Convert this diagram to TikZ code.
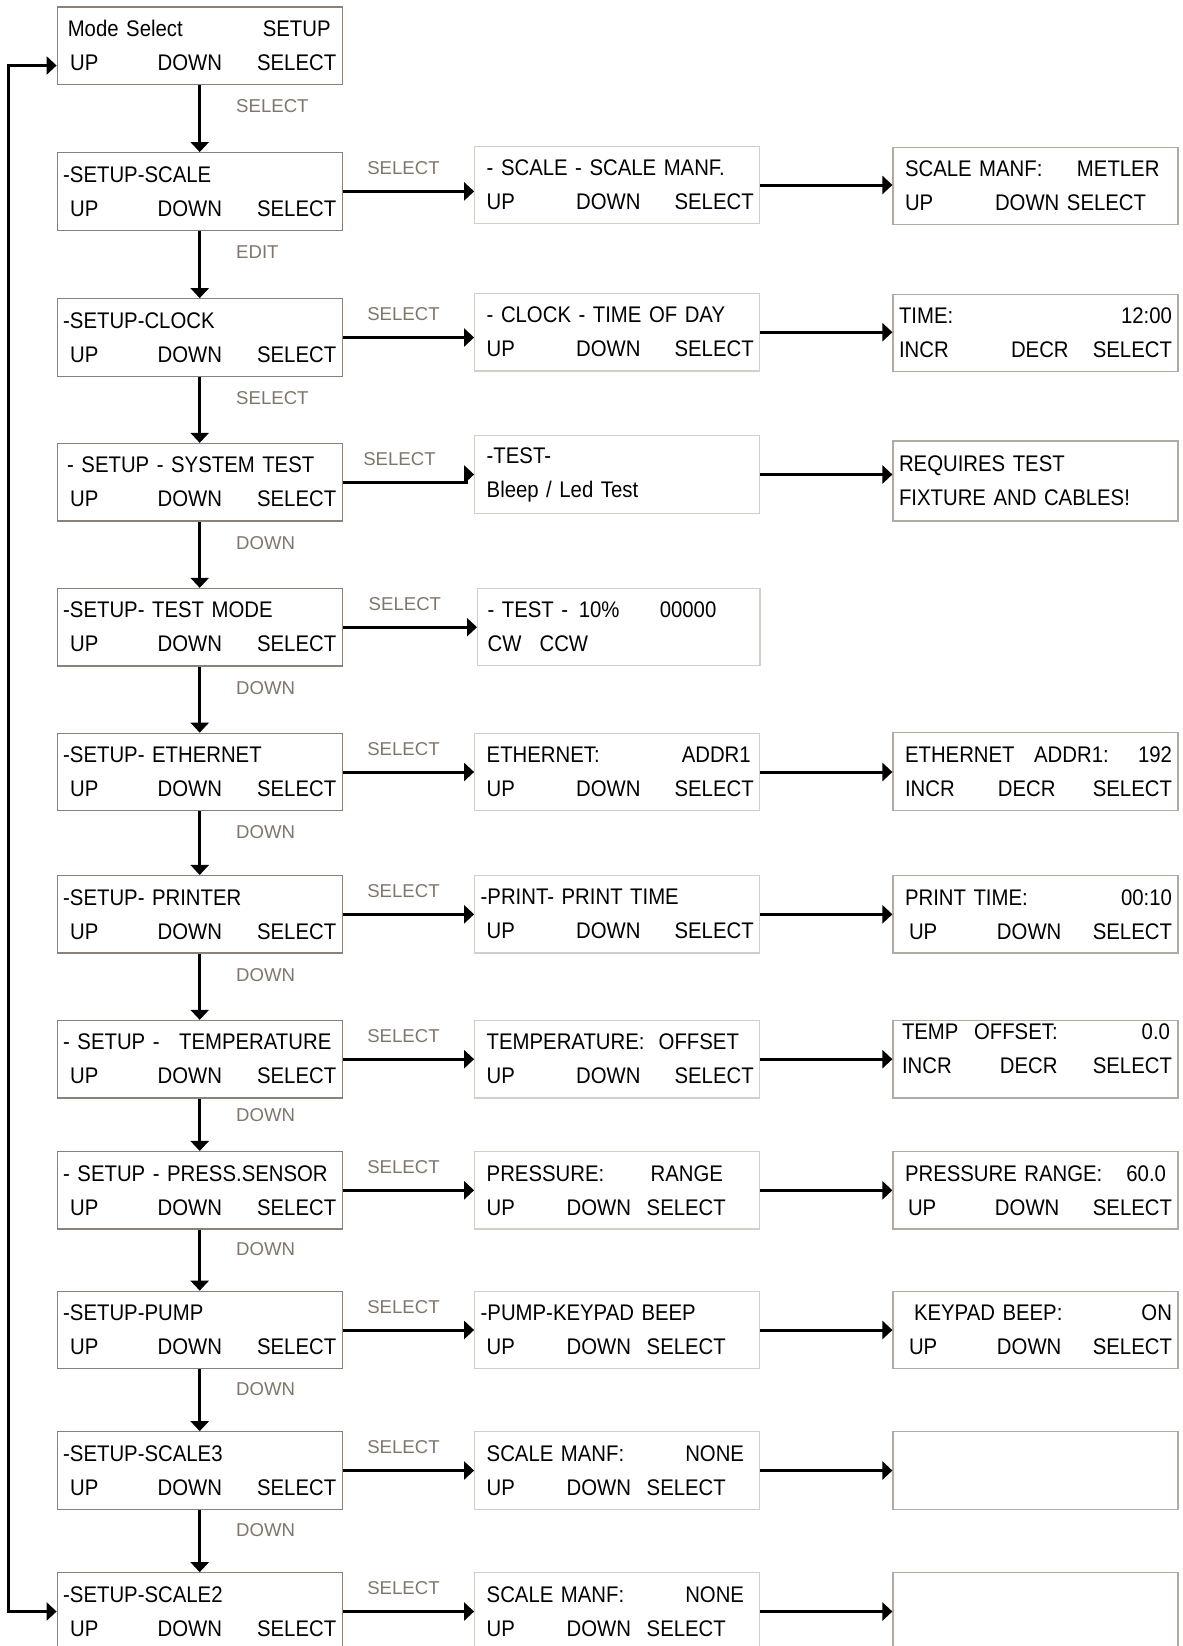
\documentclass[tikz,border=0pt]{standalone}
\usepackage{fontspec}
\usepackage{tikz}
\usetikzlibrary{arrows.meta,positioning}
\setmainfont{Liberation Sans}
\newfontfamily\lcdfont{Liberation Sans}[FakeStretch=0.9]
\definecolor{lcdedge}{HTML}{8A8178}
\definecolor{paledge}{HTML}{D2CEC8}
\definecolor{midedge}{HTML}{B1ABA4}
\definecolor{keygray}{HTML}{7F766B}
\newcommand{\lcdtype}{\lcdfont\fontsize{11.3}{17}\selectfont\spaceskip=1.9pt plus 1pt\relax}
\newcommand{\lcd}[2]{\makebox[\hsize][l]{#1}\\\makebox[\hsize][l]{#2}}
\newcommand{\setupkeys}{\hspace*{3.5pt}\makebox[43.7pt][l]{UP}DOWN\hfill SELECT}
\newcommand{\midkeys}{\hspace*{3pt}\makebox[44.7pt][l]{UP}DOWN\hfill SELECT}
\newcommand{\tightkeys}{\hspace*{3pt}\makebox[40pt][l]{UP}\makebox[40pt][l]{DOWN}SELECT}

\begin{document}
\begin{tikzpicture}[x=0.5pt,y=-0.5pt,
  lcd/.style={draw=lcdedge,line width=0.6pt,inner xsep=3pt,inner ysep=0pt,text width=136.5pt,
    minimum height=38.75pt,align=left,font=\lcdtype},
  lcdmid/.style={lcd,draw=paledge},
  lcdend/.style={lcd,draw=midedge},
  flow/.style={line width=1.5pt,-{Triangle[length=5pt,width=9pt]}},
  vlbl/.style={pos=0.32,right=17.5pt,inner sep=0pt,text=keygray,font=\fontsize{9.3}{11}\selectfont},
  hlbl/.style={midway,above=7.5pt,xshift=-2.5pt,inner sep=0pt,text=keygray,font=\fontsize{9.3}{11}\selectfont}]
\useasboundingbox (0,0) rectangle (1183,1646);
% setup menu column
\node[lcd] (mode) at (199.7,45.8) {\lcd{\hspace*{2.3pt}Mode Select\hfill SETUP\hspace*{2.8pt}}{\setupkeys}};
\node[lcd] (l1) at (199.7,191.4) {\lcd{-SETUP-SCALE}{\setupkeys}};
\node[lcd] (l2) at (199.7,337.5) {\lcd{-SETUP-CLOCK}{\setupkeys}};
\node[lcd] (l3) at (199.7,482.2) {\lcd{\hspace*{2pt}- SETUP - SYSTEM TEST}{\setupkeys}};
\node[lcd] (l4) at (199.7,627.2) {\lcd{-SETUP- TEST MODE}{\setupkeys}};
\node[lcd] (l5) at (199.7,772) {\lcd{-SETUP- ETHERNET}{\setupkeys}};
\node[lcd] (l6) at (199.7,914.3) {\lcd{-SETUP- PRINTER}{\setupkeys}};
\node[lcd] (l7) at (199.7,1059.2) {\lcd{- SETUP -\hspace{6pt} TEMPERATURE}{\setupkeys}};
\node[lcd] (l8) at (199.7,1190.3) {\lcd{- SETUP - PRESS.SENSOR}{\setupkeys}};
\node[lcd] (l9) at (199.7,1330) {\lcd{-SETUP-PUMP}{\setupkeys}};
\node[lcd] (l10) at (199.7,1470.5) {\lcd{-SETUP-SCALE3}{\setupkeys}};
\node[lcd] (l11) at (199.7,1611.5) {\lcd{-SETUP-SCALE2}{\setupkeys}};
% sub menus
\node[lcdmid] (m1) at (617.2,185) {\lcd{\hspace*{3pt}- SCALE - SCALE MANF.}{\midkeys}};
\node[lcdmid] (m2) at (617.2,332.2) {\lcd{\hspace*{3pt}- CLOCK - TIME OF DAY}{\midkeys}};
\node[lcdmid] (m3) at (617.2,474.5) {\lcd{\hspace*{3pt}-TEST-}{\hspace*{3pt}Bleep / Led Test}};
\node[lcdmid,text width=135.2pt] (m4) at (618.8,627) {\lcd{\hspace*{2pt}\makebox[45.6pt][l]{- TEST -}\makebox[40.5pt][l]{10\%}00000}{\hspace*{2pt}\makebox[26pt][l]{CW}CCW}};
\node[lcdmid] (m5) at (617.2,772) {\lcd{\hspace*{3pt}ETHERNET:\hfill ADDR1\hspace*{1.5pt}}{\midkeys}};
\node[lcdmid] (m6) at (617.2,914.3) {\lcd{-PRINT- PRINT TIME}{\midkeys}};
\node[lcdmid] (m7) at (617.2,1059.2) {\lcd{\hspace*{3pt}\makebox[86pt][l]{TEMPERATURE:}OFFSET}{\midkeys}};
\node[lcdmid] (m8) at (617.2,1190.3) {\lcd{\hspace*{3pt}\makebox[82pt][l]{PRESSURE:}RANGE}{\tightkeys}};
\node[lcdmid] (m9) at (617.2,1330) {\lcd{-PUMP-KEYPAD BEEP}{\tightkeys}};
\node[lcdmid] (m10) at (617.2,1470.5) {\lcd{\hspace*{3pt}\makebox[99.3pt][l]{SCALE MANF:}NONE}{\tightkeys}};
\node[lcdmid] (m11) at (617.2,1611.5) {\lcd{\hspace*{3pt}\makebox[99.3pt][l]{SCALE MANF:}NONE}{\tightkeys}};
% value screens
\node[lcdend] (r1) at (1035.5,186) {\lcd{\hspace*{3pt}\makebox[86pt][l]{SCALE MANF:}METLER}{\hspace*{3pt}\makebox[45pt][l]{UP}\makebox[36pt][l]{DOWN}SELECT}};
\node[lcdend] (r2) at (1035.5,333) {\lcd{TIME:\hfill 12:00}{\makebox[56pt][l]{INCR}DECR\hfill SELECT}};
\node[lcdend,minimum height=40pt] (r3) at (1035.5,481) {\lcd{REQUIRES TEST}{FIXTURE AND CABLES!}};
\node[lcdend] (r5) at (1035.5,771.5) {\lcd{\hspace*{3pt}ETHERNET\hspace{6pt} ADDR1:\hfill 192}{\hspace*{3pt}\makebox[46.5pt][l]{INCR}DECR\hfill SELECT}};
\node[lcdend] (r6) at (1035.5,914.3) {\lcd{\hspace*{3pt}PRINT TIME:\hfill 00:10}{\hspace*{5pt}\makebox[44pt][l]{UP}DOWN\hfill SELECT}};
\node[lcdend,text depth=28pt] (r7) at (1035.5,1059.2) {\lcd{\hspace*{1.5pt}TEMP\hspace{4pt} OFFSET:\hfill 0.0\hspace*{1pt}}{\hspace*{1.5pt}\makebox[49pt][l]{INCR}DECR\hfill SELECT}};
\node[lcdend] (r8) at (1035.5,1190.3) {\lcd{\hspace*{3pt}PRESSURE RANGE:\hfill 60.0\hspace*{3pt}}{\hspace*{4.5pt}\makebox[43.5pt][l]{UP}DOWN\hfill SELECT}};
\node[lcdend] (r9) at (1035.5,1330) {\lcd{\hspace*{7.5pt}KEYPAD BEEP:\hfill ON}{\hspace*{5pt}\makebox[44pt][l]{UP}DOWN\hfill SELECT}};
\node[lcdend] (r10) at (1035.5,1470.5) {};
\node[lcdend] (r11) at (1035.5,1611.5) {};
% down the setup list
\draw[flow] (mode) -- node[vlbl]{SELECT} (l1);
\draw[flow] (l1) -- node[vlbl]{EDIT} (l2);
\draw[flow] (l2) -- node[vlbl]{SELECT} (l3);
\foreach \a/\b in {l3/l4,l4/l5,l5/l6,l6/l7,l7/l8,l8/l9,l9/l10,l10/l11}
  \draw[flow] (\a) -- node[vlbl]{DOWN} (\b);
% into the sub menus
\foreach \i in {1,2,4,5,6,7,8,9,10,11}
  \draw[flow] (l\i.east) -- node[hlbl]{SELECT} (l\i.east -| m\i.west);
\draw[flow] (l3.east) -- node[hlbl]{SELECT} ++(123.3,0) |- (m3.west);
\foreach \i in {1,2,3,5,6,7,8,9,10,11}
  \draw[flow] (m\i.east) -- (m\i.east -| r\i.west);
% back to the top
\coordinate (loopx) at (8.3,0);
\coordinate (modein) at ([yshift=-9.85pt]mode.west);
\draw[line width=1.5pt,{Triangle[length=5pt,width=9pt]}-{Triangle[length=5pt,width=9pt]}]
  (l11.west) -- (l11.west -| loopx) |- (modein);
\end{tikzpicture}
\end{document}
